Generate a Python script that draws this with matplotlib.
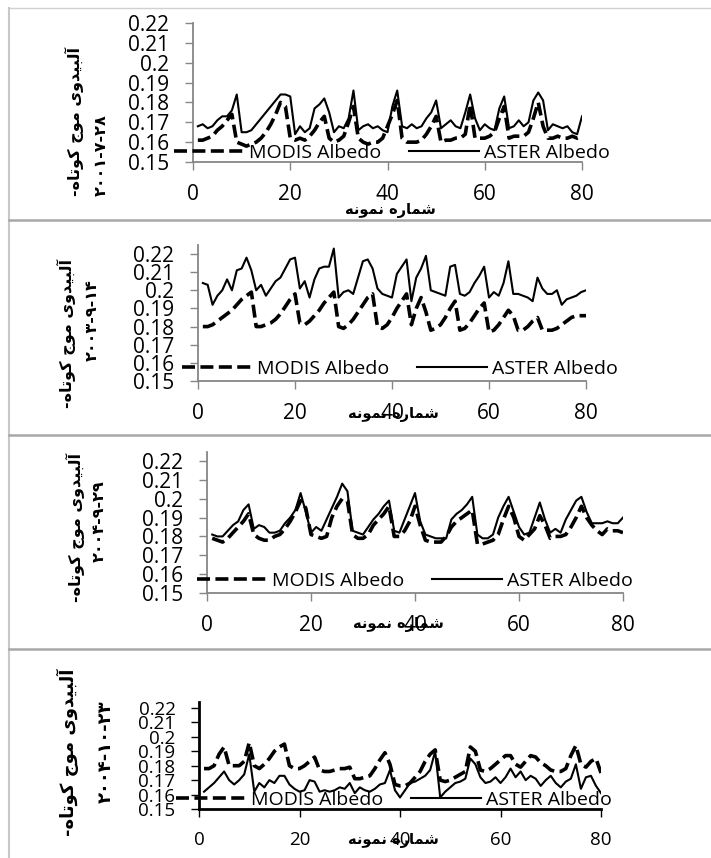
import matplotlib
matplotlib.use("Agg")
import matplotlib.pyplot as plt
from matplotlib.lines import Line2D

# ---------------- data ----------------
sample_no = list(range(1, 81))
x_ticks = [0, 20, 40, 60, 80]
y_ticks = [0.15, 0.16, 0.17, 0.18, 0.19, 0.20, 0.21, 0.22]
y_ticklabels = ["0.15", "0.16", "0.17", "0.18", "0.19", "0.2", "0.21", "0.22"]
series_names = ["MODIS Albedo", "ASTER Albedo"]
dates = ["۲۰۰۱-۷-۲۸", "۲۰۰۳-۹-۱۴", "۲۰۰۴-۹-۲۹", "۲۰۰۴-۱۰-۲۳"]
ylabel_text = "آلبیدوی موج کوتاه"
xlabel_text = "شماره نمونه"

modis_2001 = [0.161, 0.161, 0.162, 0.163, 0.166, 0.168, 0.171, 0.174, 0.160, 0.159,
              0.158, 0.159, 0.160, 0.162, 0.165, 0.169, 0.174, 0.180, 0.178, 0.162,
              0.161, 0.162, 0.161, 0.163, 0.166, 0.170, 0.173, 0.162, 0.160, 0.161,
              0.163, 0.170, 0.178, 0.162, 0.160, 0.159, 0.160, 0.160, 0.162, 0.168,
              0.174, 0.181, 0.162, 0.160, 0.160, 0.160, 0.161, 0.164, 0.168, 0.173,
              0.160, 0.161, 0.161, 0.162, 0.162, 0.164, 0.179, 0.162, 0.162, 0.162,
              0.163, 0.165, 0.172, 0.178, 0.162, 0.163, 0.163, 0.163, 0.165, 0.172,
              0.180, 0.168, 0.162, 0.162, 0.163, 0.162, 0.162, 0.163, 0.162, 0.163]
aster_2001 = [0.168, 0.169, 0.167, 0.168, 0.171, 0.173, 0.173, 0.176, 0.184, 0.165,
              0.165, 0.166, 0.169, 0.172, 0.175, 0.178, 0.181, 0.184, 0.184, 0.183,
              0.164, 0.168, 0.165, 0.167, 0.177, 0.179, 0.182, 0.175, 0.165, 0.168,
              0.167, 0.172, 0.186, 0.166, 0.168, 0.169, 0.167, 0.168, 0.166, 0.165,
              0.178, 0.186, 0.168, 0.167, 0.169, 0.167, 0.168, 0.172, 0.175, 0.181,
              0.167, 0.169, 0.171, 0.168, 0.167, 0.175, 0.184, 0.172, 0.166, 0.169,
              0.167, 0.166, 0.177, 0.183, 0.167, 0.168, 0.171, 0.168, 0.170, 0.181,
              0.185, 0.181, 0.166, 0.169, 0.168, 0.167, 0.168, 0.165, 0.164, 0.173]

modis_2003 = [0.180, 0.180, 0.181, 0.183, 0.185, 0.187, 0.189, 0.192, 0.195, 0.197,
              0.199, 0.180, 0.180, 0.181, 0.182, 0.184, 0.187, 0.191, 0.195, 0.198,
              0.182, 0.181, 0.183, 0.186, 0.189, 0.193, 0.196, 0.199, 0.180, 0.179,
              0.181, 0.184, 0.188, 0.192, 0.196, 0.198, 0.180, 0.179, 0.181, 0.185,
              0.190, 0.194, 0.198, 0.181, 0.190, 0.196, 0.188, 0.178, 0.179, 0.181,
              0.185, 0.190, 0.194, 0.178, 0.179, 0.182, 0.186, 0.190, 0.193, 0.177,
              0.178, 0.181, 0.185, 0.189, 0.186, 0.178, 0.178, 0.180, 0.183, 0.185,
              0.178, 0.178, 0.178, 0.179, 0.181, 0.183, 0.185, 0.186, 0.186, 0.186]
aster_2003 = [0.204, 0.203, 0.192, 0.197, 0.200, 0.206, 0.200, 0.211, 0.212, 0.218,
              0.211, 0.200, 0.203, 0.197, 0.201, 0.205, 0.207, 0.212, 0.217, 0.218,
              0.201, 0.205, 0.196, 0.206, 0.212, 0.213, 0.213, 0.223, 0.196, 0.199,
              0.200, 0.198, 0.207, 0.216, 0.217, 0.212, 0.201, 0.198, 0.197, 0.196,
              0.209, 0.213, 0.217, 0.194, 0.207, 0.212, 0.219, 0.200, 0.199, 0.198,
              0.197, 0.213, 0.214, 0.198, 0.197, 0.199, 0.204, 0.208, 0.213, 0.196,
              0.199, 0.197, 0.204, 0.216, 0.198, 0.198, 0.197, 0.196, 0.194, 0.207,
              0.201, 0.198, 0.198, 0.200, 0.192, 0.195, 0.196, 0.197, 0.199, 0.200]

modis_2004a = [0.179, 0.178, 0.177, 0.179, 0.182, 0.185, 0.188, 0.192, 0.181, 0.179,
               0.178, 0.178, 0.180, 0.181, 0.184, 0.188, 0.193, 0.199, 0.195, 0.181,
               0.180, 0.179, 0.180, 0.190, 0.196, 0.200, 0.199, 0.181, 0.179, 0.179,
               0.181, 0.186, 0.189, 0.192, 0.196, 0.180, 0.180, 0.183, 0.188, 0.196,
               0.186, 0.178, 0.177, 0.177, 0.177, 0.180, 0.185, 0.188, 0.190, 0.192,
               0.194, 0.176, 0.176, 0.177, 0.178, 0.181, 0.189, 0.196, 0.190, 0.180,
               0.178, 0.181, 0.184, 0.191, 0.186, 0.179, 0.180, 0.180, 0.181, 0.185,
               0.190, 0.196, 0.190, 0.186, 0.183, 0.181, 0.184, 0.183, 0.183, 0.182]
aster_2004a = [0.181, 0.180, 0.180, 0.183, 0.186, 0.188, 0.194, 0.197, 0.184, 0.186,
               0.185, 0.182, 0.182, 0.183, 0.187, 0.190, 0.194, 0.203, 0.193, 0.182,
               0.185, 0.183, 0.189, 0.195, 0.201, 0.208, 0.204, 0.183, 0.182, 0.181,
               0.185, 0.189, 0.192, 0.196, 0.199, 0.183, 0.182, 0.189, 0.196, 0.203,
               0.188, 0.181, 0.180, 0.179, 0.179, 0.179, 0.189, 0.192, 0.194, 0.197,
               0.201, 0.181, 0.179, 0.179, 0.181, 0.190, 0.196, 0.201, 0.193, 0.185,
               0.181, 0.182, 0.190, 0.198, 0.189, 0.182, 0.184, 0.182, 0.189, 0.194,
               0.199, 0.201, 0.193, 0.187, 0.187, 0.187, 0.188, 0.187, 0.187, 0.190]

modis_2004b = [0.178, 0.178, 0.180, 0.188, 0.193, 0.180, 0.180, 0.180, 0.183, 0.196,
               0.180, 0.178, 0.181, 0.185, 0.190, 0.193, 0.195, 0.180, 0.178, 0.178,
               0.180, 0.183, 0.186, 0.177, 0.176, 0.176, 0.177, 0.178, 0.178, 0.179,
               0.171, 0.171, 0.172, 0.173, 0.178, 0.184, 0.189, 0.181, 0.167, 0.166,
               0.166, 0.168, 0.172, 0.176, 0.183, 0.188, 0.191, 0.170, 0.169, 0.170,
               0.172, 0.174, 0.176, 0.193, 0.190, 0.177, 0.176, 0.178, 0.181, 0.184,
               0.187, 0.187, 0.181, 0.179, 0.183, 0.187, 0.186, 0.182, 0.180, 0.177,
               0.176, 0.176, 0.178, 0.187, 0.194, 0.181, 0.179, 0.183, 0.185, 0.175]
aster_2004b = [0.162, 0.165, 0.168, 0.172, 0.176, 0.170, 0.167, 0.170, 0.174, 0.188,
               0.162, 0.168, 0.165, 0.170, 0.168, 0.173, 0.173, 0.167, 0.164, 0.162,
               0.163, 0.170, 0.169, 0.162, 0.163, 0.162, 0.163, 0.165, 0.164, 0.168,
               0.161, 0.165, 0.163, 0.162, 0.164, 0.167, 0.168, 0.177, 0.163, 0.158,
               0.163, 0.168, 0.169, 0.171, 0.173, 0.177, 0.190, 0.158, 0.162, 0.165,
               0.168, 0.169, 0.171, 0.185, 0.181, 0.172, 0.168, 0.169, 0.172, 0.168,
               0.172, 0.178, 0.172, 0.176, 0.170, 0.173, 0.171, 0.166, 0.170, 0.173,
               0.168, 0.165, 0.169, 0.171, 0.181, 0.164, 0.172, 0.173, 0.166, 0.161]

modis_series = [modis_2001, modis_2003, modis_2004a, modis_2004b]
aster_series = [aster_2001, aster_2003, aster_2004a, aster_2004b]

# ---------------- simple Persian shaping (presentation forms + visual order) ----------------
FORMS = {
    '\u0622': ('\uFE81', '\uFE82', None, None),
    '\u0627': ('\uFE8D', '\uFE8E', None, None),
    '\u0628': ('\uFE8F', '\uFE90', '\uFE91', '\uFE92'),
    '\u062A': ('\uFE95', '\uFE96', '\uFE97', '\uFE98'),
    '\u062C': ('\uFE9D', '\uFE9E', '\uFE9F', '\uFEA0'),
    '\u062F': ('\uFEA9', '\uFEAA', None, None),
    '\u0631': ('\uFEAD', '\uFEAE', None, None),
    '\u0634': ('\uFEB5', '\uFEB6', '\uFEB7', '\uFEB8'),
    '\u0644': ('\uFEDD', '\uFEDE', '\uFEDF', '\uFEE0'),
    '\u0645': ('\uFEE1', '\uFEE2', '\uFEE3', '\uFEE4'),
    '\u0646': ('\uFEE5', '\uFEE6', '\uFEE7', '\uFEE8'),
    '\u0647': ('\uFEE9', '\uFEEA', '\uFEEB', '\uFEEC'),
    '\u0648': ('\uFEED', '\uFEEE', None, None),
    '\u06CC': ('\uFBFC', '\uFBFD', '\uFBFE', '\uFBFF'),
    '\u064A': ('\uFEF1', '\uFEF2', '\uFEF3', '\uFEF4'),
    '\u06A9': ('\uFB8E', '\uFB8F', '\uFB90', '\uFB91'),
    '\u0643': ('\uFED9', '\uFEDA', '\uFEDB', '\uFEDC'),
}


def shape_rtl(s):
    out = []
    for i, c in enumerate(s):
        if c not in FORMS:
            out.append(c)
            continue
        f = FORMS[c]
        prev = s[i - 1] if i > 0 else None
        nxt = s[i + 1] if i + 1 < len(s) else None
        jp = prev in FORMS and FORMS[prev][2] is not None
        jn = f[2] is not None and nxt in FORMS
        if jp and jn:
            out.append(f[3])
        elif jp:
            out.append(f[1])
        elif jn:
            out.append(f[2])
        else:
            out.append(f[0])
    return ''.join(reversed(out))


# ---------------- figure ----------------
W, H = 711, 858
fig = plt.figure(figsize=(W / 100, H / 100), dpi=100)
fig.patch.set_facecolor("white")

LAT = ["Open Sans", "DejaVu Sans"]
ARB = ["DejaVu Sans"]


def fx(px):
    return px / W


def fy(py):
    return 1 - py / H


# panel layout: (left px, right px, y(0.15) px, y(0.22) px, ytop, tick font, spine colour, spine width,
#               xtick center y, legend center (x,y), xlabel center (x,y), ylabel line1 (x,y), line2 (x,y), ylabel size)
panels = [
    dict(l=193, r=582, p15=162, p22=23, ytop=0.2200, tfs=15, sc="#868686", sw=1.3,
         leg=(392, 153), xl=(390, 211), yl1=(74, 121), yl2=(101, 155), yfs=11.5, xfs=10.5),
    dict(l=198, r=586, p15=381, p22=254, ytop=0.2250, tfs=15, sc="#868686", sw=1.3,
         leg=(400, 369), xl=(393, 414), yl1=(66, 333), yl2=(92, 320), yfs=11.5, xfs=10.5),
    dict(l=207, r=623, p15=593, p22=461, ytop=0.2248, tfs=15, sc="#868686", sw=1.3,
         leg=(415, 581), xl=(398, 625), yl1=(75, 527), yl2=(99, 521), yfs=11.5, xfs=10.5),
    dict(l=199, r=601, p15=809, p22=708, ytop=0.2242, tfs=13.5, sc="#000000", sw=2.0,
         leg=(394, 800), xl=(393, 840), yl1=(68, 752), yl2=(106, 752), yfs=13, xfs=10.5),
]

ylabel_line1 = "-" + shape_rtl(ylabel_text)
xlabel_vis = shape_rtl(xlabel_text)

for k, p in enumerate(panels):
    top_px = p["p15"] - (p["p15"] - p["p22"]) * (p["ytop"] - 0.15) / 0.07
    ax = fig.add_axes([fx(p["l"]), fy(p["p15"]), (p["r"] - p["l"]) / W, (p["p15"] - top_px) / H])
    ax.set_facecolor("none")
    l_m, = ax.plot(sample_no, modis_series[k], color="black", lw=2.6,
                   linestyle=(0, (3.6, 1.5)), label=series_names[0], solid_joinstyle="round")
    l_a, = ax.plot(sample_no, aster_series[k], color="black", lw=1.5, label=series_names[1],
                   solid_joinstyle="round")
    ax.set_xlim(0, 80)
    ax.set_ylim(0.15, p["ytop"])
    ax.set_xticks(x_ticks)
    ax.set_xticklabels([str(v) for v in x_ticks])
    ax.set_yticks(y_ticks)
    ax.set_yticklabels(y_ticklabels)
    for s in ["top", "right"]:
        ax.spines[s].set_visible(False)
    for s in ["left", "bottom"]:
        ax.spines[s].set_color(p["sc"])
        ax.spines[s].set_linewidth(p["sw"])
    ax.tick_params(axis="both", direction="out", length=6, width=1, color=p["sc"])
    ax.tick_params(axis="y", pad=11)
    ax.tick_params(axis="x", pad=10)
    for t in ax.get_xticklabels() + ax.get_yticklabels():
        t.set_fontfamily(LAT)
        t.set_fontsize(p["tfs"])
        t.set_color("black")

    leg = ax.legend(handles=[l_m, l_a], ncol=2, frameon=False, loc="center",
                    bbox_to_anchor=(fx(p["leg"][0]), fy(p["leg"][1])),
                    bbox_transform=fig.transFigure, prop={"family": LAT, "size": 14},
                    handlelength=3.6, handletextpad=0.25, columnspacing=1.4,
                    borderpad=0, borderaxespad=0)

    fig.text(fx(p["xl"][0]), fy(p["xl"][1]), xlabel_vis, family=ARB, fontsize=p["xfs"],
             fontweight="bold", ha="center", va="center")
    fig.text(fx(p["yl1"][0]), fy(p["yl1"][1]), ylabel_line1, family=ARB, fontsize=p["yfs"],
             fontweight="bold", ha="center", va="center", rotation=90)
    fig.text(fx(p["yl2"][0]), fy(p["yl2"][1]), dates[k], family=ARB, fontsize=p["yfs"],
             fontweight="bold", ha="center", va="center", rotation=90)

# chart-area frames
fig.add_artist(Line2D([fx(9), 1], [fy(8), fy(8)], color="#d0d0d0", lw=1.0))
fig.add_artist(Line2D([fx(9), fx(9)], [fy(8), 0], color="#c8c8c8", lw=1.5))
for yy in [220, 435, 649]:
    fig.add_artist(Line2D([fx(9), 1], [fy(yy), fy(yy)], color="#a8a8a8", lw=1.8))

fig.savefig("out.png", dpi=100, facecolor="white")
